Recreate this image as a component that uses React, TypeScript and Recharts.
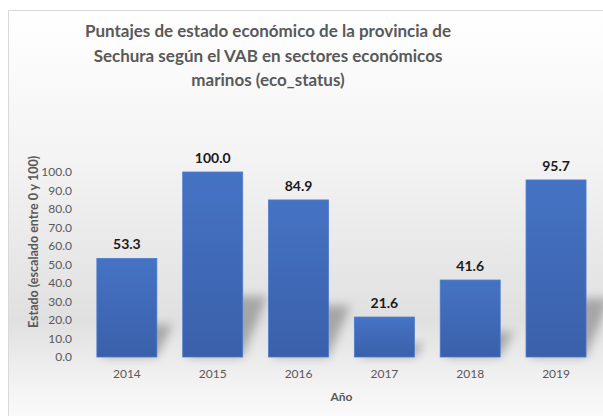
import React from "react";
import { BarChart, Bar, XAxis, YAxis, LabelList } from "recharts";

const years = ["2014", "2015", "2016", "2017", "2018", "2019"];
const ecoStatus = [53.3, 100.0, 84.9, 21.6, 41.6, 95.7];
const yTicks = [0, 10, 20, 30, 40, 50, 60, 70, 80, 90, 100];
const titleLines = [
  "Puntajes de estado económico de la provincia de",
  "Sechura según el VAB en sectores económicos",
  "marinos (eco_status)",
];

const data = years.map((year, i) => ({ year, value: ecoStatus[i] }));

const FONT = "Lato, 'Open Sans', sans-serif";
const GREY = "#595959";

// bar with an Excel-like perspective shadow behind it
function ShadowBar(props: any) {
  const { x, y, width, height } = props;
  if (!height || height <= 0) return null;
  const base = y + height;
  const rise = height * 0.33;
  const shift = height * 0.1;
  const pts = [
    [x + 4, base],
    [x + width, base],
    [x + width + shift + 6, base - rise],
    [x + shift + 10, base - rise],
  ]
    .map((p) => p.join(","))
    .join(" ");
  return (
    <g>
      <polygon points={pts} fill="#000" opacity={0.26} filter="url(#shadowBlur)" />
      <rect x={x} y={y} width={width} height={height} fill="url(#barFill)" stroke="#4d7bcc" strokeWidth={0.8} />
    </g>
  );
}

export default function App() {
  return (
    <div style={{ position: "absolute", left: 0, top: 0, width: 603, height: 416, overflow: "hidden", background: "#fff" }}>
      <div
        style={{
          position: "absolute",
          left: 8,
          top: 10,
          width: 620,
          height: 430,
          border: "1px solid #d9d9d9",
          background: "linear-gradient(to bottom, #ffffff 0%, #f3f3f3 35%, #e0e0e0 72%, #f4f4f4 88%, #ffffff 100%)",
        }}
      />
      <div
        style={{
          position: "absolute",
          left: 0,
          top: 19,
          width: 536,
          textAlign: "center",
          fontFamily: FONT,
          fontWeight: 700,
          fontSize: 17,
          lineHeight: "24.5px",
          color: GREY,
        }}
      >
        {titleLines.map((t) => (
          <div key={t}>{t}</div>
        ))}
      </div>
      <div style={{ position: "absolute", left: 0, top: 0 }}>
        <BarChart
          width={603}
          height={416}
          data={data}
          margin={{ top: 172, right: 4, bottom: 19, left: 0 }}
          barCategoryGap="15%"
        >
          <defs>
            <linearGradient id="barFill" x1="0" y1="0" x2="0" y2="1">
              <stop offset="0%" stopColor="#4573c4" />
              <stop offset="100%" stopColor="#3a60aa" />
            </linearGradient>
            <filter id="shadowBlur" x="-50%" y="-50%" width="200%" height="200%">
              <feGaussianBlur stdDeviation="5" />
            </filter>
          </defs>
          <XAxis
            dataKey="year"
            height={40}
            axisLine={false}
            tickLine={false}
            tickSize={0}
            tickMargin={12}
            tick={{ fill: GREY, fontSize: 12, fontFamily: FONT }}
            label={{
              content: (p: any) => {
                const vb = p.viewBox;
                return (
                  <text
                    x={vb.x + vb.width / 2}
                    y={vb.y + 44}
                    textAnchor="middle"
                    fill={GREY}
                    fontSize={12}
                    fontWeight={700}
                    fontFamily={FONT}
                  >
                    Año
                  </text>
                );
              },
            }}
          />
          <YAxis
            width={84}
            domain={[0, 100]}
            ticks={yTicks}
            interval={0}
            axisLine={false}
            tickLine={false}
            tickSize={0}
            tickMargin={12}
            tickFormatter={(v: number) => v.toFixed(1)}
            tick={{ fill: GREY, fontSize: 12, fontFamily: FONT }}
            label={{
              content: () => (
                <text
                  x={38}
                  y={242}
                  transform="rotate(-90, 38, 242)"
                  textAnchor="middle"
                  fill={GREY}
                  fontSize={12.5}
                  fontWeight={700}
                  fontFamily={FONT}
                >
                  Estado (escalado entre 0 y 100)
                </text>
              ),
            }}
          />
          <Bar dataKey="value" shape={ShadowBar} isAnimationActive={false}>
            <LabelList
              dataKey="value"
              position="top"
              offset={9}
              formatter={(v: any) => Number(v).toFixed(1)}
              fill="#1a1a1a"
              fontSize={14}
              fontWeight={700}
              fontFamily={FONT}
            />
          </Bar>
        </BarChart>
      </div>
    </div>
  );
}
